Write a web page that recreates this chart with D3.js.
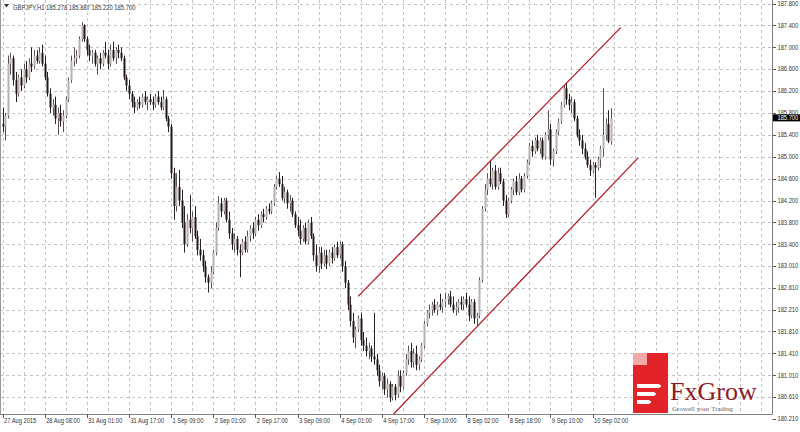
<!DOCTYPE html>
<html><head><meta charset="utf-8">
<script src="https://cdn.jsdelivr.net/npm/d3@7"></script>
<style>html,body{margin:0;padding:0;background:#fff;} svg{display:block;}</style>
</head><body><svg id="c" width="800" height="432"></svg>
<script>
const symbol = "GBPJPY,H1";
const opens = [
185.60,185.55,185.75,186.70,186.80,186.40,186.15,186.45,186.30,186.60,
186.45,186.70,186.65,186.85,186.75,186.90,186.70,186.45,186.15,185.90,
185.95,185.70,185.80,185.65,185.75,186.05,186.40,186.75,186.80,186.85,
187.15,187.40,187.15,186.95,186.85,186.90,186.70,186.80,186.70,186.90,
186.85,186.70,186.95,186.80,186.95,186.90,186.80,186.45,186.30,186.15,
186.00,185.90,186.00,185.95,186.10,186.00,186.05,186.00,185.95,186.10,
186.00,185.90,186.05,185.70,185.55,184.70,184.10,184.45,184.20,183.80,
183.40,183.85,183.70,183.90,183.55,183.30,183.20,183.00,182.80,182.70,
182.90,183.25,183.70,184.15,184.00,184.20,183.85,183.60,183.40,183.50,
183.30,183.25,183.45,183.30,183.55,183.70,183.60,183.85,183.75,183.95,
183.90,184.05,184.00,184.15,184.45,184.60,184.50,184.25,184.35,184.15,
184.20,183.95,183.75,183.65,183.50,183.70,183.45,183.80,183.55,183.20,
183.00,183.25,183.05,183.20,183.05,183.25,183.15,183.35,183.20,183.40,
183.00,182.70,182.30,182.00,181.70,181.85,182.05,181.65,181.55,181.45,
181.50,181.35,181.30,181.10,180.90,181.00,180.75,180.85,180.60,180.80,
180.65,181.00,180.80,181.05,181.30,181.45,181.25,181.40,181.20,181.30,
181.55,181.95,182.15,182.20,182.30,182.20,182.30,182.25,182.35,182.40,
182.45,182.30,182.20,182.25,182.35,182.30,182.40,182.30,182.10,182.35,
182.05,182.10,182.75,184.05,184.40,184.60,184.50,184.75,184.45,184.70,
184.55,184.20,183.95,184.20,184.40,184.55,184.35,184.60,184.40,184.65,
184.90,185.20,185.10,185.30,185.15,185.30,185.00,185.40,185.50,184.95,
185.10,185.45,185.65,185.95,186.25,186.05,185.95,186.00,185.70,185.40,
185.30,185.15,185.00,184.85,184.75,184.85,184.80,184.95,185.15,185.40,
185.60,185.278];
const highs = [
185.90,185.80,186.85,186.90,186.85,186.55,186.50,186.60,186.70,186.75,
186.80,187.00,186.95,186.95,187.00,187.05,186.85,186.55,186.25,186.05,
186.10,185.90,185.95,185.85,186.10,186.45,186.85,187.00,186.95,187.20,
187.46,187.42,187.20,187.05,186.95,186.95,186.85,186.90,186.95,187.10,
186.95,187.05,187.10,187.00,187.05,187.00,186.85,186.50,186.40,186.20,
186.10,186.05,186.10,186.15,186.20,186.10,186.15,186.10,186.15,186.20,
186.10,186.22,186.10,185.75,185.60,184.80,184.70,184.76,184.40,184.10,
183.95,184.30,184.00,184.10,183.65,183.50,183.30,183.10,182.85,183.00,
183.30,183.80,184.28,184.25,184.25,184.25,184.00,183.70,183.60,183.55,
183.40,183.50,183.55,183.65,183.75,183.80,183.90,183.95,184.00,184.05,
184.10,184.15,184.20,184.50,184.65,184.72,184.65,184.45,184.40,184.30,
184.25,184.00,183.90,183.85,183.75,183.80,183.85,183.90,183.60,183.40,
183.35,183.35,183.30,183.30,183.30,183.35,183.40,183.45,183.45,183.45,
183.10,182.75,182.45,182.15,181.90,182.10,182.15,181.80,181.70,181.60,
181.55,182.15,181.40,181.20,181.05,181.05,180.95,180.90,180.85,180.85,
181.10,181.10,181.10,181.40,181.55,181.60,181.50,181.55,181.35,181.60,
182.00,182.20,182.30,182.35,182.40,182.35,182.50,182.40,182.52,182.50,
182.55,182.45,182.35,182.40,182.45,182.45,182.52,182.45,182.40,182.40,
182.15,182.80,184.10,184.50,184.70,184.94,184.80,184.85,184.80,184.80,
184.60,184.30,184.25,184.45,184.60,184.65,184.70,184.65,184.70,184.95,
185.25,185.30,185.35,185.40,185.35,185.35,185.45,185.85,185.60,185.15,
185.50,185.70,186.00,186.30,186.36,186.15,186.10,186.05,185.75,185.50,
185.40,185.25,185.10,184.95,184.90,184.90,185.00,185.20,186.25,185.70,
185.85,185.887];
const lows = [
185.45,185.30,185.70,186.50,186.30,186.00,186.10,186.20,186.25,186.35,
186.40,186.55,186.60,186.70,186.70,186.65,186.40,186.10,185.80,185.75,
185.60,185.40,185.55,185.45,185.70,186.00,186.35,186.65,186.70,186.80,
187.10,187.10,186.85,186.75,186.70,186.65,186.50,186.60,186.65,186.80,
186.60,186.65,186.75,186.70,186.80,186.75,186.40,186.20,186.05,185.90,
185.80,185.85,185.88,185.90,185.95,185.85,185.95,185.85,185.90,185.95,
185.85,185.85,185.65,185.45,184.60,183.85,184.00,184.10,183.70,183.25,
183.35,183.60,183.45,183.50,183.20,183.10,182.90,182.70,182.52,182.60,
182.85,183.20,183.65,183.90,183.95,183.80,183.50,183.30,183.25,183.20,
182.80,183.20,183.25,183.25,183.45,183.50,183.55,183.65,183.70,183.80,
183.85,183.95,183.95,184.10,184.40,184.45,184.20,184.15,184.05,184.00,
183.90,183.70,183.55,183.40,183.45,183.40,183.40,183.50,183.10,182.90,
182.88,182.95,183.00,182.95,183.00,183.05,183.10,183.15,183.15,182.90,
182.60,182.20,181.90,181.60,181.50,181.80,181.55,181.45,181.35,181.30,
181.25,181.20,181.00,180.80,180.75,180.65,180.60,180.52,180.55,180.55,
180.60,180.70,180.75,181.00,181.20,181.15,181.15,181.10,181.10,181.25,
181.50,181.90,182.05,182.10,182.15,182.10,182.20,182.15,182.25,182.30,
182.25,182.15,182.10,182.15,182.20,182.20,182.25,182.00,182.05,181.95,
181.90,182.05,182.70,184.00,184.30,184.45,184.40,184.40,184.40,184.50,
184.10,183.88,183.90,184.15,184.30,184.30,184.30,184.35,184.35,184.60,
184.85,185.00,185.05,185.10,185.05,184.95,184.95,185.30,184.85,184.82,
185.05,185.40,185.60,185.90,185.95,185.85,185.80,185.65,185.35,185.20,
185.05,184.95,184.80,184.65,184.70,184.25,184.75,184.80,185.00,185.30,
185.25,185.220];
const closes = [
185.55,185.75,186.70,186.80,186.40,186.15,186.45,186.30,186.60,186.45,
186.70,186.65,186.85,186.75,186.90,186.70,186.45,186.15,185.90,185.95,
185.70,185.80,185.65,185.75,186.05,186.40,186.75,186.80,186.85,187.15,
187.40,187.15,186.95,186.85,186.90,186.70,186.80,186.70,186.90,186.85,
186.70,186.95,186.80,186.95,186.90,186.80,186.45,186.30,186.15,186.00,
185.90,186.00,185.95,186.10,186.00,186.05,186.00,185.95,186.10,186.00,
185.90,186.05,185.70,185.55,184.70,184.10,184.45,184.20,183.80,183.40,
183.85,183.70,183.90,183.55,183.30,183.20,183.00,182.80,182.70,182.90,
183.25,183.70,184.15,184.00,184.20,183.85,183.60,183.40,183.50,183.30,
183.25,183.45,183.30,183.55,183.70,183.60,183.85,183.75,183.95,183.90,
184.05,184.00,184.15,184.45,184.60,184.50,184.25,184.35,184.15,184.20,
183.95,183.75,183.65,183.50,183.70,183.45,183.80,183.55,183.20,183.00,
183.25,183.05,183.20,183.05,183.25,183.15,183.35,183.20,183.40,183.00,
182.70,182.30,182.00,181.70,181.85,182.05,181.65,181.55,181.45,181.50,
181.35,181.30,181.10,180.90,181.00,180.75,180.85,180.60,180.80,180.65,
181.00,180.80,181.05,181.30,181.45,181.25,181.40,181.20,181.30,181.55,
181.95,182.15,182.20,182.30,182.20,182.30,182.25,182.35,182.40,182.45,
182.30,182.20,182.25,182.35,182.30,182.40,182.30,182.10,182.35,182.05,
182.10,182.75,184.05,184.40,184.60,184.50,184.75,184.45,184.70,184.55,
184.20,183.95,184.20,184.40,184.55,184.35,184.60,184.40,184.65,184.90,
185.20,185.10,185.30,185.15,185.30,185.00,185.40,185.50,184.95,185.10,
185.45,185.65,185.95,186.25,186.05,185.95,186.00,185.70,185.40,185.30,
185.15,185.00,184.85,184.75,184.85,184.80,184.95,185.15,185.40,185.60,
185.28,185.700];
const priceTicks = ["187.800","187.400","187.000","186.600","186.200","185.800","185.400","185.000","184.600","184.200","183.800","183.400","183.010","182.610","182.210","181.810","181.410","181.010","180.610","180.210"];
const timeLabels = ["27 Aug 2015","28 Aug 08:00","31 Aug 01:00","31 Aug 17:00","1 Sep 09:00","2 Sep 01:00","2 Sep 17:00","3 Sep 09:00","4 Sep 01:00","4 Sep 17:00","7 Sep 10:00","8 Sep 02:00","8 Sep 18:00","9 Sep 10:00","10 Sep 02:00"];
const timeLabelBars = [0,16,32,48,64,80,96,112,128,144,160,176,192,208,224];
const channelUpper = [{bar:135.0, price:182.45},{bar:234.7, price:187.36}];
const channelLower = [{bar:146.7, price:180.21},{bar:241.3, price:184.98}];

const plotR = 772, plotB = 414;
const svg = d3.select('#c');
const x = d3.scaleLinear().domain([0, 231]).range([2.5, 2.5 + 231 * 2.634]);
const y = d3.scaleLinear().domain([180.21, 187.8]).range([419, 3.5]);
const font = "'Liberation Sans',Arial,sans-serif";
const SX = 0.82;

svg.append('rect').attr('width',800).attr('height',432).attr('fill','#fff');
svg.append('defs').append('clipPath').attr('id','plot')
  .append('rect').attr('x',0).attr('y',0).attr('width',plotR).attr('height',plotB);

const g = svg.append('g').attr('clip-path','url(#plot)');
// grid
const vBars = d3.range(0, 300, 8);
g.selectAll('.vg').data(vBars).join('line')
  .attr('x1', d => Math.round(x(d)) + 0.5).attr('x2', d => Math.round(x(d)) + 0.5)
  .attr('y1', 0).attr('y2', plotB)
  .attr('stroke', '#c4c4c4').attr('stroke-dasharray', '3,3');
g.selectAll('.hg').data(priceTicks).join('line')
  .attr('x1', 0).attr('x2', plotR)
  .attr('y1', d => Math.round(y(+d)) + 0.5).attr('y2', d => Math.round(y(+d)) + 0.5)
  .attr('stroke', '#c4c4c4').attr('stroke-dasharray', '3,3');

// candles
const bars = d3.range(closes.length).map(i => ({i, o: opens[i], h: highs[i], l: lows[i], c: closes[i]}));
const cg = g.append('g');
cg.selectAll('.wick').data(bars).join('line')
  .attr('x1', d => Math.round(x(d.i)) + 0.5).attr('x2', d => Math.round(x(d.i)) + 0.5)
  .attr('y1', d => y(d.h)).attr('y2', d => y(d.l))
  .attr('stroke', d => d.c >= d.o ? '#5a5050' : '#2a2020').attr('stroke-width', 1);
cg.selectAll('.body').data(bars).join('rect')
  .attr('x', d => Math.round(x(d.i)) - 0.5).attr('width', 2)
  .attr('y', d => y(Math.max(d.o, d.c)))
  .attr('height', d => Math.max(1, Math.abs(y(d.o) - y(d.c))))
  .attr('fill', d => d.c >= d.o ? '#b9b1b1' : '#221818');

// channel lines
const line = d3.line().x(d => x(d.bar)).y(d => y(d.price));
[channelUpper, channelLower].forEach(ch => {
  g.append('path').datum(ch).attr('d', line).attr('fill','none')
    .attr('stroke', '#b41c25').attr('stroke-width', 1.3);
});

// frame
svg.append('line').attr('x1',0.5).attr('x2',0.5).attr('y1',0).attr('y2',plotB).attr('stroke','#999');
svg.append('line').attr('x1',plotR+0.5).attr('x2',plotR+0.5).attr('y1',0).attr('y2',plotB+0.5).attr('stroke','#808080');
svg.append('line').attr('x1',0).attr('x2',plotR+0.5).attr('y1',plotB+0.5).attr('y2',plotB+0.5).attr('stroke','#808080');

function label(sel, fx, fy, size, sx) {
  return sel.attr('transform', (d, k) => `translate(${fx(d, k)},${fy(d, k)}) scale(${sx || SX},1)`)
    .attr('font-family', font).attr('font-size', size);
}

// price axis
svg.selectAll('.pt').data(priceTicks).join('line')
  .attr('x1', plotR + 0.5).attr('x2', plotR + 4)
  .attr('y1', d => Math.round(y(+d)) + 0.5).attr('y2', d => Math.round(y(+d)) + 0.5)
  .attr('stroke', '#555');
label(svg.selectAll('.pl').data(priceTicks).join('text'), () => plotR + 5.5, d => y(+d) + 2.3, 7)
  .attr('fill', '#333').text(d => d);

// time axis
svg.selectAll('.tt').data(timeLabelBars).join('line')
  .attr('x1', d => Math.round(x(d)) + 0.5).attr('x2', d => Math.round(x(d)) + 0.5)
  .attr('y1', plotB).attr('y2', plotB + 4).attr('stroke', '#555');
label(svg.selectAll('.tl').data(timeLabels).join('text'), (d, k) => x(timeLabelBars[k]) + 1.5, () => 423, 7)
  .attr('fill', '#333').text(d => d);

// current price box
const last = closes.length - 1;
const cy = y(closes[last]) - 0.8;
svg.append('rect').attr('x', plotR + 1).attr('y', cy - 3.3).attr('width', 28).attr('height', 7).attr('fill', '#000');
label(svg.append('text').datum(closes[last]), () => plotR + 5.5, () => cy + 2.6, 7)
  .attr('fill', '#fff').text(d => d.toFixed(3));

// header
svg.append('path').attr('d', 'M4,4 L9,4 L6.5,7.5 Z').attr('fill', '#333');
label(svg.append('text').datum(0), () => 13, () => 9.5, 7.5, 0.78)
  .attr('fill', '#333')
  .text(`${symbol} ${opens[last].toFixed(3)} ${highs[last].toFixed(3)} ${lows[last].toFixed(3)} ${closes[last].toFixed(3)}`);

// logo
const lg = svg.append('g');
lg.append('rect').attr('x', 633).attr('y', 353).attr('width', 35).attr('height', 60).attr('fill', '#e2232a');
lg.append('rect').attr('x', 633).attr('y', 353).attr('width', 14).attr('height', 12).attr('fill', '#f2a9a9');
[[384, 22], [392, 17], [400, 12]].forEach(([yy, w]) => {
  lg.append('path').attr('d', `M637,${yy} h${w} l2.5,2 l-2.5,2 h-${w} Z`).attr('fill', '#fff');
});
lg.append('text').attr('x', 670).attr('y', 400)
  .attr('font-family', "'Liberation Serif','Times New Roman',serif").attr('font-size', 26).attr('fill', '#8e1b22')
  .text('FxGrow');
lg.append('text').attr('x', 672).attr('y', 411)
  .attr('font-family', "'Liberation Serif','Times New Roman',serif").attr('font-size', 7).attr('fill', '#666')
  .text('Growell your Trading');
</script></body></html>
